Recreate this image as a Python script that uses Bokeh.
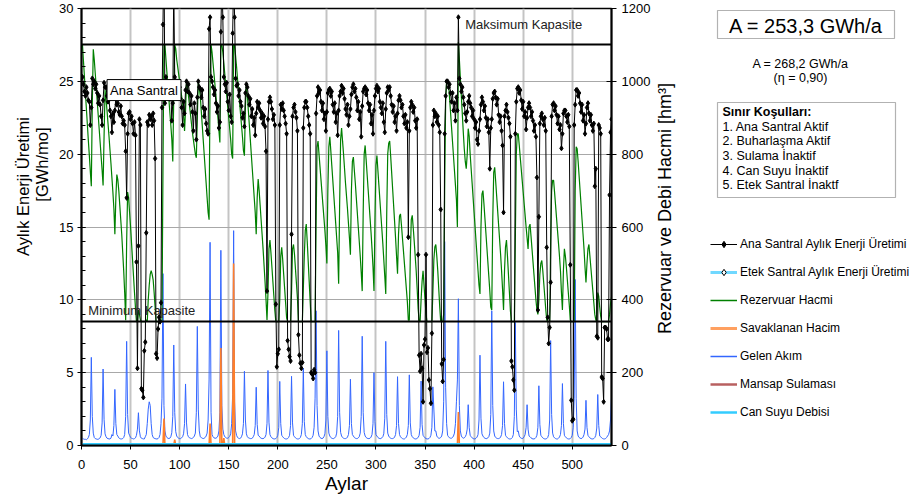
from bokeh.plotting import figure
from bokeh.layouts import row
from bokeh.models import (Range1d, LinearAxis, Label, Legend, LegendItem,
                          BoxAnnotation, FixedTicker)
from bokeh.embed import file_html
from bokeh.resources import INLINE
import math

# ---------------- data (monthly, 45 years x 12 months) ----------------
# Ana Santral monthly energy production [GWh/mo]
energy_rows = [
    [25.3, 24.8, 24.3, 24.0, 24.6, 24.2, 23.7, 23.6, 22.0, 23.2, 25.2, 24.8],
    [25.0, 24.5, 24.8, 24.2, 23.5, 24.0, 23.4, 22.6, 22.0, 23.7, 24.9, 24.6],
    [24.6, 24.0, 23.6, 23.8, 23.0, 22.6, 21.5, 22.8, 22.2, 23.0, 23.9, 23.4],
    [23.5, 22.9, 22.7, 23.3, 22.6, 22.1, 22.3, 22.0, 20.2, 17.0, 21.4, 22.8],
    [22.9, 22.4, 22.6, 22.1, 21.4, 22.2, 21.3, 12.6, 5.3, 13.7, 22.4, 22.0],
    [3.9, 3.8, 3.3, 6.5, 7.1, 14.6, 22.2, 22.0, 22.7, 22.4, 22.6, 22.0],
    [22.8, 22.3, 19.7, 6.3, 6.0, 8.0, 8.8, 8.5, 9.8, 23.2, 28.9, 34.0],
    [23.5, 25.3, 24.6, 24.8, 24.2, 23.8, 24.5, 22.3, 23.5, 31.5, 25.3, 24.7],
    [25.0, 24.5, 24.2, 24.6, 23.8, 23.2, 22.0, 23.6, 22.8, 24.4, 25.0, 24.3],
    [24.8, 24.2, 23.4, 24.0, 22.9, 21.6, 23.5, 22.8, 21.0, 23.9, 25.0, 24.6],
    [24.5, 23.9, 24.4, 23.2, 22.6, 23.1, 22.1, 21.6, 21.4, 28.6, 29.4, 25.3],
    [25.0, 24.6, 24.1, 24.4, 23.5, 22.9, 23.3, 21.8, 22.2, 28.4, 32.0, 29.4],
    [25.3, 24.8, 24.3, 24.9, 23.6, 23.0, 24.1, 22.6, 22.2, 28.3, 32.0, 29.4],
    [25.2, 24.7, 24.8, 24.0, 24.4, 23.6, 23.3, 22.5, 22.8, 21.9, 24.2, 24.8],
    [24.6, 24.0, 23.4, 23.8, 22.6, 23.1, 22.0, 22.5, 21.3, 22.8, 23.6, 23.2],
    [23.5, 23.0, 22.5, 22.8, 22.1, 22.6, 21.9, 20.2, 10.6, 22.4, 23.6, 23.9],
    [23.6, 23.1, 22.4, 22.7, 22.0, 9.7, 5.4, 6.3, 6.6, 22.0, 23.4, 23.1],
    [23.5, 23.0, 22.6, 22.1, 21.4, 7.2, 6.6, 6.1, 5.8, 14.5, 22.6, 23.2],
    [23.4, 22.9, 22.5, 21.6, 7.6, 6.2, 5.65, 5.3, 5.7, 21.8, 23.2, 23.6],
    [23.6, 23.2, 22.6, 22.0, 21.4, 5.0, 4.9, 4.6, 5.2, 5.0, 22.8, 24.0],
    [24.6, 24.2, 24.4, 23.6, 23.0, 23.5, 22.4, 22.8, 21.6, 22.9, 24.2, 24.4],
    [24.5, 24.0, 24.3, 23.4, 22.9, 23.5, 22.2, 22.8, 21.3, 23.0, 24.0, 24.3],
    [24.7, 24.2, 24.5, 23.8, 23.1, 22.7, 23.4, 22.0, 22.6, 23.1, 24.1, 24.6],
    [24.8, 24.3, 24.5, 23.9, 23.0, 23.6, 22.4, 22.9, 21.2, 23.3, 24.3, 24.5],
    [24.6, 24.1, 24.4, 23.5, 23.0, 23.4, 22.1, 22.7, 21.4, 23.0, 24.0, 24.5],
    [24.7, 24.3, 24.5, 23.6, 23.2, 22.8, 23.5, 22.2, 21.5, 23.1, 24.2, 24.6],
    [24.4, 24.6, 24.0, 23.4, 22.9, 23.3, 22.2, 22.6, 21.6, 22.8, 23.7, 24.0],
    [23.7, 23.2, 23.4, 22.6, 22.1, 22.7, 21.8, 22.2, 14.3, 21.6, 23.2, 23.6],
    [23.4, 22.9, 23.2, 22.3, 21.8, 22.4, 13.1, 6.2, 5.1, 6.3, 5.3, 3.0],
    [6.9, 7.3, 13.1, 6.4, 6.7, 4.5, 3.9, 2.9, 7.7, 22.0, 23.0, 22.6],
    [22.8, 22.2, 22.6, 22.0, 21.5, 16.2, 5.6, 4.4, 5.9, 21.4, 24.0, 25.0],
    [25.0, 24.6, 24.8, 24.2, 23.6, 24.2, 23.0, 23.5, 22.3, 23.9, 23.0, 29.4],
    [25.2, 24.8, 24.3, 24.6, 23.9, 23.4, 22.8, 22.3, 22.9, 23.6, 24.0, 23.5],
    [23.2, 22.6, 23.0, 22.4, 21.8, 22.2, 21.0, 20.7, 21.6, 22.4, 23.4, 23.9],
    [23.6, 23.0, 23.3, 22.5, 21.9, 22.4, 21.5, 19.0, 21.8, 22.4, 23.8, 24.2],
    [24.3, 23.9, 23.4, 23.8, 22.7, 22.2, 22.6, 21.6, 20.6, 16.0, 22.6, 23.0],
    [23.4, 22.9, 22.5, 22.1, 21.2, 5.8, 5.4, 4.5, 3.8, 21.4, 23.6, 24.5],
    [24.6, 24.2, 24.4, 23.7, 23.1, 23.6, 22.6, 22.9, 21.7, 22.5, 23.2, 23.5],
    [23.2, 22.6, 22.9, 22.3, 21.6, 22.0, 21.2, 18.4, 9.3, 15.7, 22.1, 22.6],
    [22.8, 22.4, 22.0, 22.5, 21.6, 13.6, 8.8, 7.0, 8.1, 11.2, 22.6, 23.4],
    [23.5, 23.0, 23.3, 22.7, 22.1, 22.6, 21.7, 22.0, 20.4, 21.4, 22.8, 23.0],
    [23.0, 22.6, 22.2, 22.7, 21.9, 12.4, 3.1, 1.7, 1.8, 22.0, 23.4, 24.4],
    [24.4, 24.0, 24.2, 23.5, 22.9, 23.4, 22.3, 22.7, 21.4, 22.1, 23.2, 23.5],
    [22.8, 22.3, 22.7, 22.0, 21.6, 22.1, 17.8, 19.0, 7.5, 7.4, 22.0, 21.8],
    [21.4, 4.7, 4.6, 3.0, 8.1, 8.1, 8.0, 7.3, 7.3, 17.2, 21.5, 22.4],
]

# Rezervuar Hacmi [hm3]
reservoir_rows = [
    [1100, 1056, 1012, 968, 924, 880, 836, 796, 752, 712, 940, 1088],
    [1060, 1022, 984, 946, 908, 870, 832, 794, 756, 714, 850, 976],
    [950, 920, 885, 850, 812, 775, 735, 695, 650, 580, 680, 744],
    [730, 700, 660, 620, 580, 530, 480, 420, 344, 560, 696, 680],
    [640, 600, 555, 510, 465, 420, 378, 340, 340, 372, 360, 345],
    [340, 340, 340, 340, 340, 345, 340, 400, 440, 470, 480, 470],
    [455, 420, 380, 340, 340, 340, 340, 340, 340, 345, 760, 1100],
    [1100, 1062, 1025, 990, 952, 915, 880, 842, 780, 960, 1100, 1090],
    [1060, 1040, 1020, 1000, 980, 960, 940, 910, 864, 920, 1000, 990],
    [960, 935, 910, 885, 860, 840, 820, 800, 790, 900, 1000, 980],
    [960, 920, 880, 840, 800, 760, 720, 680, 640, 620, 1000, 1100],
    [1080, 1050, 1020, 990, 960, 930, 900, 865, 832, 1100, 1100, 1080],
    [1050, 1020, 990, 960, 930, 900, 870, 840, 800, 788, 1100, 1100],
    [1070, 1040, 1005, 975, 945, 912, 880, 848, 810, 796, 930, 992],
    [960, 920, 880, 840, 800, 760, 720, 680, 640, 580, 680, 732],
    [700, 660, 620, 580, 540, 495, 450, 400, 345, 420, 540, 564],
    [530, 490, 450, 410, 370, 340, 340, 340, 340, 400, 520, 544],
    [510, 470, 430, 390, 350, 340, 340, 340, 340, 420, 540, 552],
    [525, 485, 445, 405, 340, 340, 340, 340, 340, 430, 520, 590],
    [608, 560, 505, 450, 395, 340, 340, 340, 340, 340, 600, 820],
    [836, 800, 765, 730, 695, 660, 625, 590, 550, 500, 700, 820],
    [848, 810, 770, 730, 690, 650, 610, 570, 530, 444, 660, 840],
    [872, 835, 800, 760, 720, 685, 650, 610, 570, 524, 700, 780],
    [792, 755, 720, 680, 640, 600, 560, 520, 475, 424, 640, 800],
    [824, 785, 745, 705, 665, 625, 585, 540, 490, 424, 620, 770],
    [796, 755, 715, 675, 635, 595, 555, 510, 465, 416, 640, 800],
    [830, 836, 795, 750, 705, 660, 615, 570, 520, 472, 580, 630],
    [636, 605, 570, 535, 500, 465, 430, 395, 344, 344, 520, 620],
    [632, 598, 560, 520, 480, 430, 375, 342, 340, 400, 450, 480],
    [440, 400, 360, 340, 340, 340, 340, 340, 340, 420, 510, 545],
    [552, 520, 480, 430, 380, 340, 340, 340, 360, 700, 940, 1000],
    [1000, 990, 955, 915, 875, 835, 795, 755, 715, 675, 600, 1108],
    [1060, 1010, 960, 910, 860, 815, 780, 760, 800, 870, 850, 800],
    [760, 720, 680, 640, 600, 560, 520, 480, 440, 416, 600, 690],
    [700, 665, 625, 585, 545, 505, 465, 425, 380, 372, 620, 750],
    [764, 725, 685, 645, 605, 565, 525, 480, 430, 372, 480, 545],
    [564, 520, 470, 420, 370, 340, 340, 340, 340, 560, 800, 856],
    [856, 825, 792, 760, 728, 696, 664, 632, 600, 570, 540, 600],
    [608, 575, 540, 505, 470, 435, 400, 372, 360, 400, 470, 500],
    [508, 480, 445, 410, 375, 345, 340, 340, 340, 560, 700, 728],
    [728, 695, 660, 625, 590, 555, 520, 480, 420, 372, 480, 540],
    [520, 490, 455, 420, 385, 345, 340, 340, 340, 340, 700, 820],
    [815, 780, 740, 700, 660, 620, 580, 540, 490, 448, 500, 540],
    [552, 520, 488, 456, 424, 392, 360, 345, 340, 420, 410, 380],
    [355, 340, 340, 340, 340, 340, 340, 340, 340, 360, 390, 408],
]

# Gelen Akim [hm3]
inflow_rows = [
    [20, 18, 17, 17, 16, 18, 22, 30, 70, 242, 80, 34],
    [22, 19, 18, 17, 17, 19, 21, 28, 62, 210, 72, 32],
    [24, 20, 19, 18, 18, 20, 30, 26, 55, 154, 60, 30],
    [26, 21, 19, 18, 18, 19, 22, 30, 80, 286, 85, 34],
    [28, 22, 20, 19, 18, 19, 21, 28, 45, 90, 40, 24],
    [20, 19, 18, 18, 24, 30, 60, 100, 120, 110, 60, 30],
    [22, 20, 19, 18, 18, 19, 22, 30, 60, 130, 472, 110],
    [40, 26, 22, 20, 19, 20, 24, 35, 80, 276, 90, 38],
    [26, 22, 20, 19, 19, 21, 24, 32, 60, 169, 62, 30],
    [24, 21, 20, 19, 20, 22, 26, 34, 90, 327, 100, 40],
    [24, 22, 20, 19, 20, 22, 26, 34, 70, 180, 558, 90],
    [30, 24, 21, 20, 20, 22, 26, 40, 90, 536, 110, 45],
    [30, 24, 22, 20, 20, 22, 25, 32, 60, 140, 590, 120],
    [40, 28, 22, 20, 19, 20, 24, 32, 60, 204, 70, 32],
    [24, 21, 20, 19, 19, 20, 24, 30, 55, 160, 58, 28],
    [26, 22, 20, 19, 19, 20, 23, 30, 60, 206, 64, 30],
    [24, 21, 19, 18, 18, 19, 22, 28, 50, 176, 60, 28],
    [24, 21, 19, 18, 18, 19, 22, 28, 55, 190, 62, 28],
    [24, 21, 19, 18, 18, 19, 22, 30, 60, 212, 66, 30],
    [24, 21, 19, 18, 18, 19, 22, 28, 50, 130, 370, 110],
    [40, 26, 22, 20, 19, 20, 24, 32, 70, 260, 80, 34],
    [26, 22, 20, 19, 19, 21, 24, 34, 80, 316, 90, 36],
    [26, 22, 20, 19, 19, 20, 23, 30, 55, 182, 60, 30],
    [26, 22, 20, 19, 19, 21, 24, 34, 80, 300, 90, 36],
    [26, 22, 20, 19, 19, 20, 23, 30, 60, 200, 66, 30],
    [26, 22, 20, 19, 19, 21, 24, 32, 75, 286, 85, 34],
    [26, 22, 20, 19, 19, 20, 23, 30, 55, 189, 60, 30],
    [24, 21, 19, 18, 18, 20, 23, 30, 55, 194, 62, 30],
    [24, 21, 19, 18, 18, 20, 22, 28, 50, 177, 58, 28],
    [24, 21, 19, 18, 18, 19, 22, 28, 50, 161, 100, 40],
    [40, 26, 22, 20, 20, 22, 26, 40, 120, 560, 160, 60],
    [28, 24, 21, 20, 20, 22, 26, 34, 60, 120, 180, 403],
    [110, 40, 26, 22, 20, 21, 24, 30, 45, 112, 50, 28],
    [24, 21, 19, 18, 18, 20, 23, 30, 70, 248, 75, 32],
    [26, 22, 20, 19, 19, 21, 24, 34, 85, 370, 110, 40],
    [26, 22, 20, 19, 19, 20, 23, 30, 55, 175, 60, 28],
    [24, 21, 19, 18, 18, 19, 22, 30, 80, 338, 100, 38],
    [40, 26, 22, 20, 19, 20, 24, 30, 50, 112, 45, 26],
    [24, 21, 19, 18, 18, 19, 22, 28, 50, 164, 58, 28],
    [24, 21, 19, 18, 18, 19, 22, 30, 70, 288, 85, 34],
    [24, 21, 19, 18, 18, 20, 23, 30, 55, 170, 60, 28],
    [24, 21, 19, 18, 18, 19, 22, 28, 50, 130, 456, 130],
    [40, 26, 22, 20, 19, 20, 23, 30, 45, 124, 50, 28],
    [24, 21, 19, 18, 18, 19, 22, 28, 48, 140, 55, 26],
    [24, 21, 19, 18, 18, 19, 22, 26, 30, 40, 70, 132],
]

# Savaklanan Hacim [hm3]: months with spill and their volumes
spill_months = [84, 95, 131, 142, 145, 155, 384]
spill_values = [74, 16, 60, 268, 20, 500, 92]

max_capacity = 1100   # hm3  (Maksimum Kapasite)
min_capacity = 340    # hm3  (Minimum Kapasite)

left_ticks = [0, 5, 10, 15, 20, 25, 30]
right_ticks = [0, 200, 400, 600, 800, 1000, 1200]
x_ticks = [0, 50, 100, 150, 200, 250, 300, 350, 400, 450, 500]

legend_labels = ["Ana Santral Aylık Enerji Üretimi", "Etek Santral Aylık Enerji Üretimi",
                 "Rezervuar Hacmi", "Savaklanan Hacim", "Gelen Akım",
                 "Mansap Sulaması", "Can Suyu Debisi"]
cond_lines = ["Sınır Koşulları:", "1. Ana Santral Aktif", "2. Buharlaşma Aktif",
              "3. Sulama İnaktif", "4. Can Suyu İnaktif", "5. Etek Santral İnaktf"]

# ---------------- build series ----------------
energy = [v for r in energy_rows for v in r]
reservoir = [v for r in reservoir_rows for v in r]
inflow = [v for r in inflow_rows for v in r]
n = len(energy)
months = list(range(1, n + 1))
spill = [0] * n
for m, v in zip(spill_months, spill_values):
    spill[m - 1] = v
etek = [0] * n
mansap = [0] * n
cansuyu = [0] * n

FONT = "Liberation Sans"
H = 499
LEFT_W = 56          # left title strip
MAIN_R = 655         # right edge of main figure (window px)
FL, FR, FT, FB = 81, 611, 8, 445   # plot frame in window pixels

C_BLACK = "black"
C_GREEN = "#008000"
C_BLUE = "#3366FF"
C_ORANGE = "#FF7F2A"
C_MANSAP = "#B5524F"
C_CAN = "#33CCFF"
C_ETEK = "#66D0FF"


def side_fig(x0, x1):
    # frame spans the same rows as the main chart frame (row layouts align frames);
    # its data units are window pixels (y downwards)
    f = figure(width=x1 - x0, height=H, output_backend="svg", toolbar_location=None,
               x_range=Range1d(x0, x1), y_range=Range1d(FB, FT),
               x_axis_location=None, y_axis_location=None,
               min_border_left=0, min_border_right=0,
               min_border_top=FT, min_border_bottom=H - FB)
    f.grid.visible = False
    f.outline_line_color = None
    return f


# ---------------- left strip with axis title ----------------
fl = side_fig(0, LEFT_W)
fl.add_layout(Label(x=22, y=186, text="Aylık Enerji Üretimi", angle=math.pi / 2,
                    text_align="center", text_baseline="middle",
                    text_font=FONT, text_font_size="16.5px", text_color="black"))
fl.add_layout(Label(x=41, y=164, text="[GWh/mo]", angle=math.pi / 2,
                    text_align="center", text_baseline="middle",
                    text_font=FONT, text_font_size="16.5px", text_color="black"))

# ---------------- main chart ----------------
p = figure(width=MAIN_R - LEFT_W, height=H, output_backend="svg", toolbar_location=None,
           x_range=Range1d(0, 540), y_range=Range1d(0, 30),
           min_border_left=FL - LEFT_W, min_border_right=MAIN_R - FR,
           min_border_top=FT, min_border_bottom=H - FB)
p.extra_y_ranges = {"right": Range1d(0, 1200)}
p.outline_line_color = "black"
p.outline_line_width = 1.5

p.xaxis.ticker = FixedTicker(ticks=x_ticks)
p.yaxis.ticker = FixedTicker(ticks=left_ticks, minor_ticks=list(range(0, 31)))
for ax in (p.xaxis[0], p.yaxis[0]):
    ax.axis_line_width = 2
    ax.axis_line_color = "black"
    ax.major_tick_line_color = "black"
    ax.minor_tick_line_color = "black"
    ax.major_label_text_font = FONT
    ax.major_label_text_font_size = "13px"
    ax.major_label_text_color = "black"
p.xaxis.major_tick_out = 4
p.xaxis.major_tick_in = 0
p.xaxis.minor_tick_out = 0
p.xaxis.minor_tick_in = 0
p.xaxis.major_label_standoff = 10
p.xaxis.axis_label = "Aylar"
p.xaxis.axis_label_text_font = FONT
p.xaxis.axis_label_text_font_size = "19px"
p.xaxis.axis_label_text_font_style = "normal"
p.xaxis.axis_label_text_color = "black"
p.xaxis.axis_label_standoff = 1
p.yaxis.major_tick_out = 4
p.yaxis.major_tick_in = 4
p.yaxis.minor_tick_out = 0
p.yaxis.minor_tick_in = 4
p.yaxis.major_label_standoff = 4

rax = LinearAxis(y_range_name="right", ticker=FixedTicker(ticks=right_ticks))
rax.axis_line_width = 2
rax.major_tick_out = 5
rax.major_tick_in = 5
rax.minor_tick_out = 0
rax.minor_tick_in = 0
rax.major_label_standoff = 5
rax.major_label_text_font = FONT
rax.major_label_text_font_size = "13px"
rax.major_label_text_color = "black"
p.add_layout(rax, "right")

p.xgrid.ticker = FixedTicker(ticks=x_ticks)
p.xgrid.grid_line_color = "#c4c4c4"
p.xgrid.grid_line_width = 2
p.ygrid.ticker = FixedTicker(ticks=left_ticks)
p.ygrid.grid_line_color = "#a8a8a8"
p.ygrid.grid_line_width = 1.2

p.line(months, inflow, line_color=C_BLUE, line_width=1, y_range_name="right")
p.line(months, spill, line_color=C_ORANGE, line_width=1.6, y_range_name="right")
p.line(months, reservoir, line_color=C_GREEN, line_width=1.2, y_range_name="right")
p.line(months, mansap, line_color=C_MANSAP, line_width=2, y_range_name="right")
p.line(months, etek, line_color=C_ETEK, line_width=3)
p.line(months, cansuyu, line_color=C_CAN, line_width=5, y_range_name="right")
p.hspan(y=[max_capacity, min_capacity], line_color="black", line_width=2,
        y_range_name="right")
p.line(months, energy, line_color=C_BLACK, line_width=1)
p.scatter(months, energy, marker="diamond", size=5, color=C_BLACK)

p.add_layout(Label(x=63.7, y=24.4, text="Ana Santral", text_align="center",
                   text_baseline="middle", text_font=FONT, text_font_size="13px",
                   text_color="black", background_fill_color="white",
                   border_line_color="black", border_line_width=1, padding=3))
p.add_layout(Label(x=391, y=28.9, text="Maksimum Kapasite", text_align="left",
                   text_baseline="middle", text_font=FONT, text_font_size="13px",
                   text_color="#222222"))
p.add_layout(Label(x=7, y=9.3, text="Minimum Kapasite", text_align="left",
                   text_baseline="middle", text_font=FONT, text_font_size="13px",
                   text_color="#222222"))

# ---------------- right panel ----------------
fr = side_fig(MAIN_R, 913)
fr.add_layout(Label(x=664, y=208, text="Rezervuar ve Debi Hacmi [hm³]", angle=math.pi / 2,
                    text_align="center", text_baseline="middle",
                    text_font=FONT, text_font_size="18px", text_color="black"))
fr.add_layout(BoxAnnotation(left=717, right=894, top=10, bottom=38,
                            fill_color="white", fill_alpha=1, line_color="black",
                            line_width=1.2))
fr.add_layout(Label(x=805.5, y=25, text="A = 253,3 GWh/a", text_align="center",
                    text_baseline="middle", text_font=FONT, text_font_size="20px",
                    text_color="black"))
fr.add_layout(Label(x=800, y=63, text="A = 268,2 GWh/a", text_align="center",
                    text_baseline="middle", text_font=FONT, text_font_size="12.5px",
                    text_color="black"))
fr.add_layout(Label(x=800, y=77, text="(η = 0,90)", text_align="center",
                    text_baseline="middle", text_font=FONT, text_font_size="12.5px",
                    text_color="black"))
fr.add_layout(BoxAnnotation(left=717, right=895, top=102, bottom=197,
                            fill_color="white", fill_alpha=1, line_color="black",
                            line_width=1.2))
cond_y = [111, 126, 140, 155, 170, 184]
for i, (t, yy) in enumerate(zip(cond_lines, cond_y)):
    fr.add_layout(Label(x=722, y=yy, text=t, text_align="left",
                        text_baseline="middle", text_font=FONT,
                        text_font_size="12.5px", text_color="black",
                        text_font_style="bold" if i == 0 else "normal"))

# legend swatches: renderers holding a single undefined point, styled like the series
nan = [float("nan")]
g_en = fr.line(x=nan, y=nan, line_color=C_BLACK, line_width=1)
g_en_pt = fr.scatter(x=nan, y=nan, marker="diamond", size=5, color=C_BLACK)
g_et = fr.line(x=nan, y=nan, line_color="#70D8FF", line_width=3)
g_et_pt = fr.scatter(x=nan, y=nan, marker="diamond", size=5, fill_color="white",
                     line_color="black", line_width=1)
g_res = fr.line(x=nan, y=nan, line_color=C_GREEN, line_width=1.5)
g_sp = fr.line(x=nan, y=nan, line_color="#FFA060", line_width=3)
g_in = fr.line(x=nan, y=nan, line_color=C_BLUE, line_width=1.5)
g_ma = fr.line(x=nan, y=nan, line_color="#B86060", line_width=2.5)
g_ca = fr.line(x=nan, y=nan, line_color=C_CAN, line_width=2.5)
swatches = [[g_en, g_en_pt], [g_et, g_et_pt], [g_res], [g_sp], [g_in], [g_ma], [g_ca]]
legend = Legend(items=[LegendItem(label=lab, renderers=rs)
                       for lab, rs in zip(legend_labels, swatches)],
                location=(710 - MAIN_R, FB - 420), orientation="vertical",
                glyph_width=27, glyph_height=16, label_height=16, spacing=12,
                padding=0, margin=0, label_standoff=3,
                border_line_alpha=0, background_fill_alpha=0,
                label_text_font=FONT, label_text_font_size="12px",
                label_text_color="black")
fr.add_layout(legend)

layout = row(fl, p, fr, spacing=0)
open("out.html", "w").write(file_html(layout, INLINE))
